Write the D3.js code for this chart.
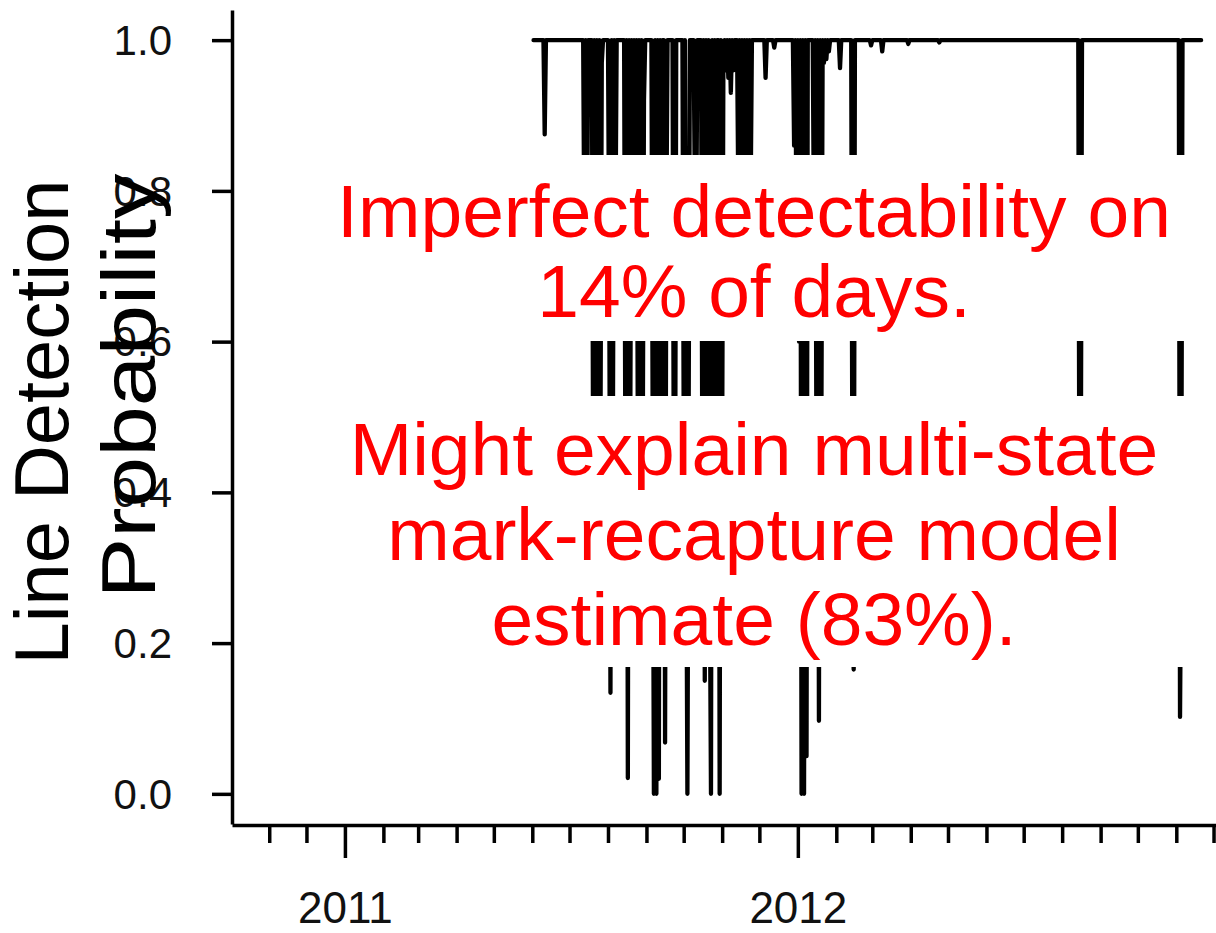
<!DOCTYPE html>
<html>
<head>
<meta charset="utf-8">
<script src="https://cdn.jsdelivr.net/npm/d3@7"></script>
<style>
  html, body { margin: 0; padding: 0; background: #fff; }
  svg { display: block; }
</style>
</head>
<body>
<svg id="chart" width="1216" height="933"></svg>
<script>
// Daily line detection probability, June 2011 – November 2012.
// Every day sits at full detection unless listed in the dip arrays below.
const seriesStart = "2011-06-02";
const seriesEnd = "2012-11-21";
const fullDetection = 1.0;

const dipDates = [
  "2011-06-11",
  "2011-07-13", "2011-07-15",
  "2011-07-20", "2011-07-22", "2011-07-24", "2011-07-26", "2011-07-27",
  "2011-08-02", "2011-08-03", "2011-08-05", "2011-08-07",
  "2011-08-15", "2011-08-17", "2011-08-19",
  "2011-08-21", "2011-08-23", "2011-08-25", "2011-08-27", "2011-08-29", "2011-08-30",
  "2011-09-06", "2011-09-07", "2011-09-09", "2011-09-11", "2011-09-13", "2011-09-16", "2011-09-17",
  "2011-09-23", "2011-09-24",
  "2011-10-01", "2011-10-03", "2011-10-04", "2011-10-05",
  "2011-10-10", "2011-10-11",
  "2011-10-16", "2011-10-18", "2011-10-20", "2011-10-22", "2011-10-23",
  "2011-10-25", "2011-10-27", "2011-10-30", "2011-11-01",
  "2011-11-02", "2011-11-04", "2011-11-06", "2011-11-08", "2011-11-10",
  "2011-11-14", "2011-11-16", "2011-11-18", "2011-11-20", "2011-11-22", "2011-11-24",
  "2011-12-06", "2011-12-13",
  "2011-12-29", "2011-12-31",
  "2012-01-02", "2012-01-04", "2012-01-06", "2012-01-08",
  "2012-01-14", "2012-01-16", "2012-01-18", "2012-01-20",
  "2012-01-22", "2012-01-24", "2012-01-26",
  "2012-02-04",
  "2012-02-14", "2012-02-15",
  "2012-02-29", "2012-03-09", "2012-03-30", "2012-04-24",
  "2012-08-15", "2012-08-16",
  "2012-11-04", "2012-11-05"
];

const dipValues = [
  0.875,
  0.72, 0.66,
  0.45, 0.35, 0.45, 0.50, 0.97,
  0.70, 0.134, 0.50, 0.75,
  0.45, 0.021, 0.50,
  0.75, 0.70, 0.50, 0.35, 0.45, 0.92,
  0.50, 0.00, 0.00, 0.02, 0.35, 0.068, 0.75,
  0.45, 0.30,
  0.50, 0.40, 0.00, 0.50,
  0.80, 0.70,
  0.45, 0.15, 0.40, 0.30, 0.00,
  0.45, 0.40, 0.00, 0.45,
  0.97, 0.96, 0.95, 0.93, 0.96,
  0.80, 0.70, 0.65, 0.75, 0.70, 0.80,
  0.95, 0.99,
  0.86, 0.70,
  0.60, 0.00, 0.00, 0.05,
  0.75, 0.45, 0.097, 0.50,
  0.97, 0.975, 0.985,
  0.963,
  0.40, 0.165,
  0.993, 0.985, 0.995, 0.997,
  0.30, 0.40,
  0.102, 0.35
];

const yTickValues = [0, 0.2, 0.4, 0.6, 0.8, 1.0];
const yearTicks = ["2011-01-01", "2012-01-01"];
const yTitleLines = ["Line Detection", "Probability"];
const noteTop = ["Imperfect detectability on", "14% of days."];
const noteBottom = ["Might explain multi-state", "mark-recapture model", "estimate (83%)."];

// ---- build the daily series ----
const parse = d3.utcParse("%Y-%m-%d");
const dipMap = new Map(dipDates.map((d, i) => [d, dipValues[i]]));
const fmt = d3.utcFormat("%Y-%m-%d");
const days = d3.utcDay.range(parse(seriesStart), d3.utcDay.offset(parse(seriesEnd), 1));
const series = days.map(d => ({ date: d, value: dipMap.has(fmt(d)) ? dipMap.get(fmt(d)) : fullDetection }));

// ---- scales ----
const svg = d3.select("#chart");
svg.append("rect").attr("width", 1216).attr("height", 933).attr("fill", "#fff");

const x = d3.scaleUtc()
  .domain([parse("2010-10-02"), parse("2013-01-01")])
  .range([232, 1252]);
const y = d3.scaleLinear()
  .domain([-0.04, 1.04])
  .range([824, 10]);

// ---- data line ----
svg.append("path")
  .datum(series)
  .attr("fill", "none")
  .attr("stroke", "#000")
  .attr("stroke-width", 4.3)
  .attr("stroke-linejoin", "round")
  .attr("stroke-linecap", "round")
  .attr("d", d3.line().x(d => x(d.date)).y(d => y(d.value)));

// ---- axes ----
const axisFont = "'Liberation Sans', Arial, sans-serif";

const yAxis = svg.append("g")
  .attr("transform", "translate(232,0)")
  .call(d3.axisLeft(y).tickValues(yTickValues).tickFormat(d3.format(".1f"))
    .tickSize(20).tickSizeOuter(0).tickPadding(40));
yAxis.select(".domain").attr("stroke-width", 3.5);
yAxis.selectAll(".tick line").attr("stroke-width", 3.5);
yAxis.selectAll(".tick text")
  .attr("font-family", axisFont).attr("font-size", 42).attr("fill", "#111")
  .attr("dy", "0.34em");

const monthTicks = d3.utcMonth.range(parse("2010-11-01"), parse("2013-01-02"))
  .filter(d => d.getUTCMonth() !== 0);
const minorAxis = svg.append("g")
  .attr("transform", "translate(0,825)")
  .call(d3.axisBottom(x).tickValues(monthTicks).tickFormat("").tickSize(18).tickSizeOuter(0));
minorAxis.select(".domain").attr("stroke-width", 3.5);
minorAxis.selectAll(".tick line").attr("stroke-width", 3.5);

const majorAxis = svg.append("g")
  .attr("transform", "translate(0,825)")
  .call(d3.axisBottom(x).tickValues(yearTicks.map(parse)).tickFormat(d3.utcFormat("%Y"))
    .tickSize(33).tickSizeOuter(0));
majorAxis.select(".domain").remove();
majorAxis.selectAll(".tick line").attr("stroke-width", 3.5);
majorAxis.selectAll(".tick text")
  .attr("font-family", axisFont).attr("font-size", 44).attr("fill", "#111")
  .attr("y", 98).attr("dy", "0");

// ---- annotation boxes ----
const noteFont = "'Liberation Sans', Arial, sans-serif";
function note(lines, boxTop, boxBottom, firstBaseline, lineStep) {
  svg.append("rect")
    .attr("x", 318).attr("y", boxTop)
    .attr("width", 1210 - 318).attr("height", boxBottom - boxTop)
    .attr("fill", "#fff");
  svg.append("text")
    .attr("font-family", noteFont).attr("font-size", 75).attr("fill", "#ff0000")
    .attr("text-anchor", "middle")
    .selectAll("tspan").data(lines).join("tspan")
    .attr("x", 754)
    .attr("y", (d, i) => firstBaseline + i * lineStep)
    .text(d => d);
}
note(noteTop, 155, 341, 237, 80);
note(noteBottom, 396, 667, 475, 85);

// ---- y axis title ----
const titleFont = "'Liberation Sans Narrow', 'Liberation Sans', Arial, sans-serif";
const titleSpecs = [
  { text: yTitleLines[0], cx: 68, cy: 422, len: 485 },
  { text: yTitleLines[1], cx: 155, cy: 386, len: 425 }
];
titleSpecs.forEach(s => {
  svg.append("text")
    .attr("transform", `translate(${s.cx},${s.cy}) rotate(-90)`)
    .attr("text-anchor", "middle")
    .attr("font-family", titleFont).attr("font-size", 76).attr("fill", "#000")
    .attr("textLength", s.len).attr("lengthAdjust", "spacingAndGlyphs")
    .text(s.text);
});
</script>
</body>
</html>
